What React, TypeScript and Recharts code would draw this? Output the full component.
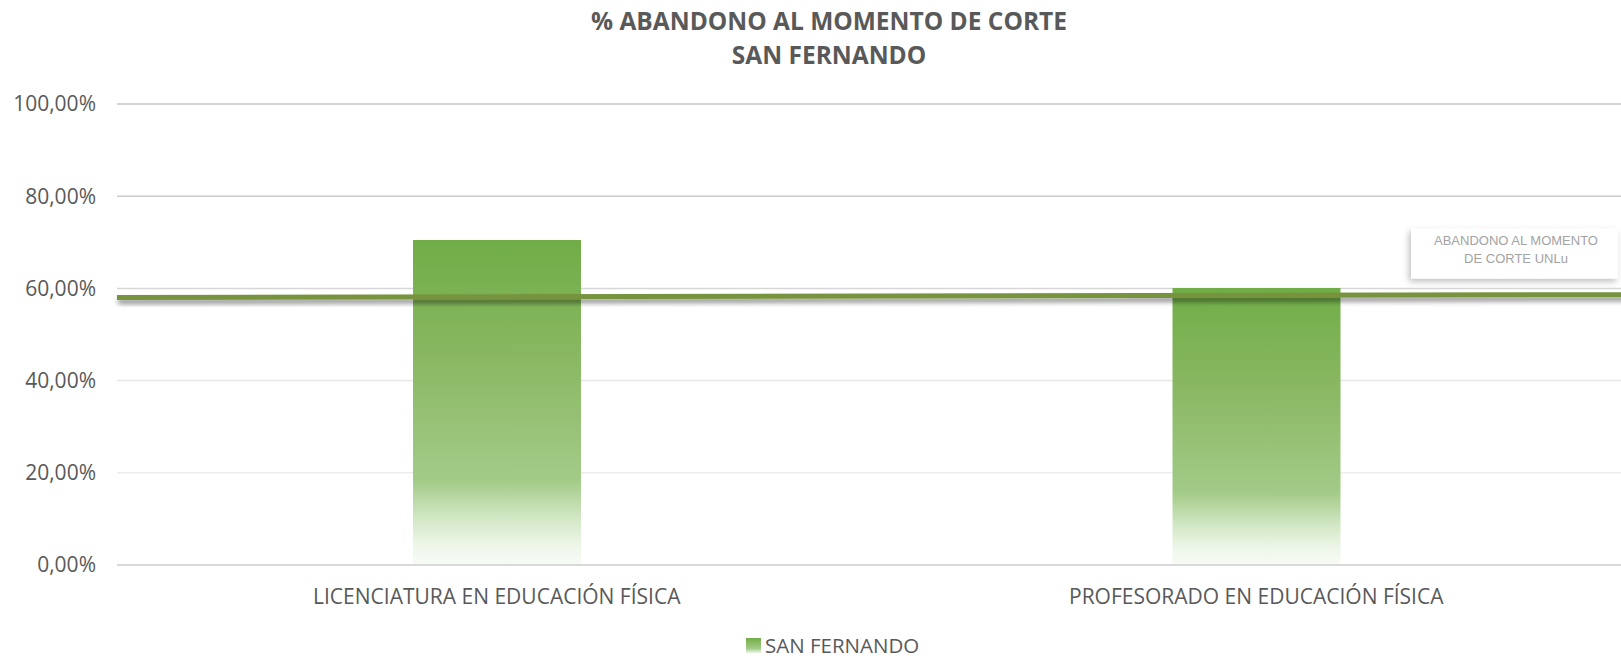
import React from 'react';
import { ComposedChart, Bar, Line, XAxis, YAxis, CartesianGrid } from 'recharts';

const categories = ['LICENCIATURA EN EDUCACIÓN FÍSICA', 'PROFESORADO EN EDUCACIÓN FÍSICA'];
const sanFernando = [70.5, 60.1];
const unluPositions = [0, 1];
const unluValues = [58.0, 58.65];
const yTicks = [0, 20, 40, 60, 80, 100];
const titleLines = ['% ABANDONO AL MOMENTO DE CORTE', 'SAN FERNANDO'];
const barSeriesName = 'SAN FERNANDO';
const lineLabelLines = ['ABANDONO AL MOMENTO', 'DE CORTE UNLu'];

const barData = categories.map((c, i) => ({ name: c, sf: sanFernando[i] }));
const lineData = unluPositions.map((p, i) => ({ pos: p, v: unluValues[i] }));

const fmt = (v: number) => v.toFixed(2).replace('.', ',') + '%';
const FONT = '"Open Sans", sans-serif';
const TXT = '#595959';

const LineLabel = (props: any) => {
  const { x, y, index } = props;
  if (index !== lineData.length - 1) return null;
  return (
    <g>
      <rect x={x - 225} y={y - 66} width={207} height={50} fill="#ffffff" filter="url(#boxShadow)" />
      <text x={x - 120} y={y - 54} textAnchor="middle" dominantBaseline="central" fontFamily='"Liberation Sans", Arial, sans-serif' fontSize={13} fill="#a3a3a3">
        {lineLabelLines[0]}
      </text>
      <text x={x - 120} y={y - 36} textAnchor="middle" dominantBaseline="central" fontFamily='"Liberation Sans", Arial, sans-serif' fontSize={13} fill="#a3a3a3">
        {lineLabelLines[1]}
      </text>
    </g>
  );
};

export default function App() {
  return (
    <div style={{ position: 'absolute', left: 0, top: 0, width: 1621, height: 659, overflow: 'hidden', background: '#fff' }}>
      <div style={{ position: 'relative', width: 1658, height: 659 }}>
        <ComposedChart width={1658} height={659} data={barData} margin={{ top: 104, right: 22, bottom: 0, left: 0 }}>
          <defs>
            <linearGradient id="barGrad" x1="0" y1="0" x2="0" y2="1">
              <stop offset="0" stopColor="#70AD47" />
              <stop offset="0.37" stopColor="#8AB863" />
              <stop offset="0.74" stopColor="#A3CB88" />
              <stop offset="0.85" stopColor="#D0E6C2" />
              <stop offset="0.94" stopColor="#EEF6E9" />
              <stop offset="1" stopColor="#F8FBF6" />
            </linearGradient>
            <linearGradient id="gridGrad" gradientUnits="userSpaceOnUse" x1="0" y1="104" x2="0" y2="565">
              <stop offset="0" stopColor="#c6c6c6" />
              <stop offset="0.3" stopColor="#cfcfcf" />
              <stop offset="0.6" stopColor="#e6e6e6" />
              <stop offset="1" stopColor="#f2f2f2" />
            </linearGradient>
            <filter id="lineShadow" x="-5%" y="-200%" width="110%" height="600%">
              <feDropShadow dx="1" dy="4" stdDeviation="2.5" floodColor="#000" floodOpacity="0.45" />
            </filter>
            <filter id="boxShadow" x="-20%" y="-30%" width="140%" height="170%">
              <feDropShadow dx="-2" dy="3" stdDeviation="3" floodColor="#000" floodOpacity="0.25" />
            </filter>
          </defs>
          <CartesianGrid vertical={false} stroke="url(#gridGrad)" strokeWidth={1.5} />
          <XAxis
            dataKey="name"
            tickLine={false}
            axisLine={{ stroke: '#d9d9d9', strokeWidth: 2 }}
            tickSize={0}
            tickMargin={24}
            height={94}
            interval={0}
            tick={{ fill: TXT, fontFamily: FONT, fontSize: 21 }}
          />
          <XAxis xAxisId="sec" type="number" dataKey="pos" domain={[0, 1]} hide />
          <YAxis
            domain={[0, 100]}
            ticks={yTicks}
            tickFormatter={fmt}
            tickLine={false}
            axisLine={false}
            tickSize={0}
            tickMargin={21}
            width={117}
            tick={{ fill: TXT, fontFamily: FONT, fontSize: 21 }}
          />
          <Bar dataKey="sf" name={barSeriesName} barSize={168} fill="url(#barGrad)" isAnimationActive={false} />
          <Line
            xAxisId="sec"
            data={lineData}
            dataKey="v"
            stroke="#77933C"
            strokeWidth={5}
            dot={false}
            activeDot={false}
            filter="url(#lineShadow)"
            label={<LineLabel />}
            isAnimationActive={false}
          />
        </ComposedChart>
        <div style={{ position: 'absolute', left: 0, top: 4, width: 1658, textAlign: 'center', fontFamily: FONT, fontWeight: 700, fontSize: 24.5, color: TXT, lineHeight: '34px' }}>
          <div>{titleLines[0]}</div>
          <div>{titleLines[1]}</div>
        </div>
        <div style={{ position: 'absolute', left: 746, top: 635, display: 'flex', alignItems: 'center', fontFamily: FONT, fontSize: 20.5, color: TXT, lineHeight: '21px' }}>
          <span style={{ display: 'inline-block', width: 15, height: 15, marginRight: 4, background: 'linear-gradient(#70AD47, #A3CB88 70%, #eef6e9)' }} />
          <span>{barSeriesName}</span>
        </div>
      </div>
    </div>
  );
}
